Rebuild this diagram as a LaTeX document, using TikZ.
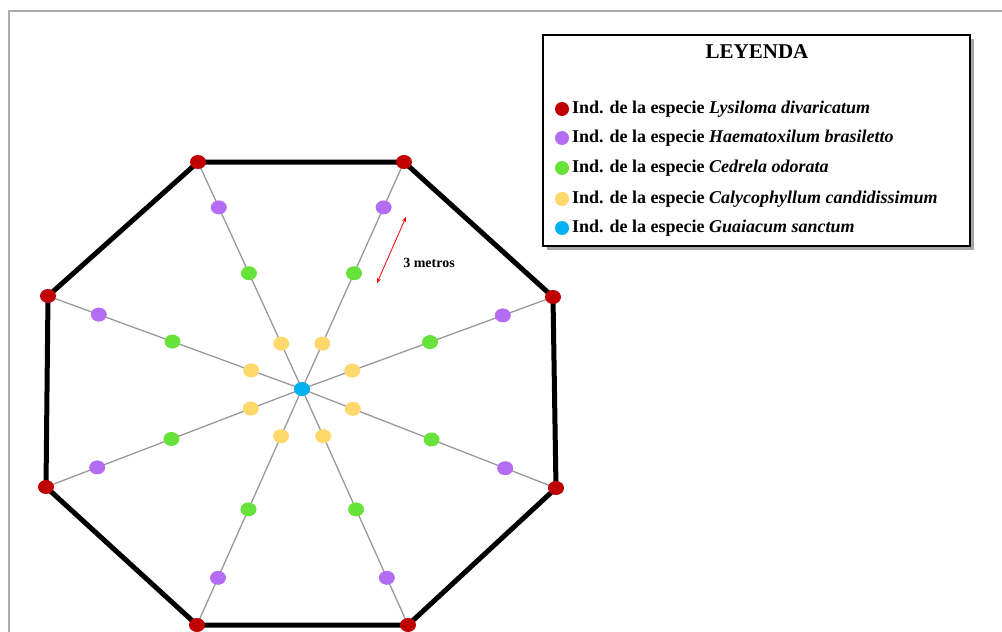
\documentclass[tikz,border=0pt]{standalone}
\usepackage{fontspec}
\setmainfont{Liberation Serif}
\usetikzlibrary{arrows.meta,positioning,shapes.geometric,calc}

\definecolor{lysiloma}{HTML}{C00000}
\definecolor{haemato}{HTML}{B56CF5}
\definecolor{cedrela}{HTML}{66E23A}
\definecolor{calyco}{HTML}{FFD86B}
\definecolor{guaiacum}{HTML}{00B0F0}
\definecolor{marco}{HTML}{ABABAB}

\tikzset{
  arbol/.style={ellipse, fill=#1, draw=none, inner sep=0pt, minimum width=16pt, minimum height=14pt},
  radio/.style={draw=gray!80, line width=1.3pt},
  borde/.style={draw=black, line width=5pt, line join=miter},
  entrada/.style={anchor=west, inner sep=0pt, font=\fontsize{18}{20}\selectfont\bfseries}
}

\begin{document}
\begin{tikzpicture}[x=1pt, y=-1pt]
    \useasboundingbox (0,0) rectangle (1002,632);

    % marco gris
    \draw[marco, line width=2pt] (9,640) -- (9,11) -- (1010,11);

    % vertices del octagono
    \coordinate (c) at (302,389);
    \coordinate (p1) at (198,162);
    \coordinate (p2) at (404,162);
    \coordinate (p3) at (553,297);
    \coordinate (p4) at (556,488);
    \coordinate (p5) at (408,625);
    \coordinate (p6) at (197,625);
    \coordinate (p7) at (46,487);
    \coordinate (p8) at (48,296);

    % radios desde el centro
    \foreach \i in {1,...,8}
        \draw[radio] (c) -- (p\i);

    % borde del octagono
    \draw[borde] (p1) -- (p2) -- (p3) -- (p4) -- (p5) -- (p6) -- (p7) -- (p8) -- cycle;

    % individuos sobre cada radio
    \foreach \i in {1,...,8} {
        \path (c) -- (p\i)
            node[arbol=calyco, pos=0.2] (y\i) {}
            node[arbol=cedrela, pos=0.51] (g\i) {}
            node[arbol=haemato, pos=0.8] (m\i) {};
        \node[arbol=lysiloma] (r\i) at (p\i) {};
    }
    \node[arbol=guaiacum] (centro) at (c) {};

    % distancia
    \coordinate (d1) at (406,217);
    \coordinate (d2) at (377,283);
    \draw[red, line width=0.8pt, {Stealth[length=5pt,width=4pt]}-{Stealth[length=5pt,width=4pt]}] (d2) -- (d1);
    \node[font=\fontsize{14}{16}\selectfont\bfseries] (tres) at (429,263) {3 metros};

    % leyenda
    \fill[black!35] (547,39) rectangle (974,250);
    \draw[fill=white, line width=1.6pt] (543,35) rectangle (970,246);
    \node[font=\fontsize{21}{24}\selectfont\bfseries] (titulo) at (757,52) {LEYENDA};

    \foreach \y/\col/\sp [count=\k] in {109/lysiloma/Lysiloma divaricatum,
                                       138/haemato/Haematoxilum brasiletto,
                                       168/cedrela/Cedrela odorata,
                                       199/calyco/Calycophyllum candidissimum,
                                       228/guaiacum/Guaiacum sanctum} {
        \node[arbol=\col, minimum width=14pt, minimum height=14pt] (ld\k) at (562,\y) {};
        \node[entrada] (lt\k) at (572,\y) {Ind. de la especie \textit{\sp}};
    }
\end{tikzpicture}
\end{document}
